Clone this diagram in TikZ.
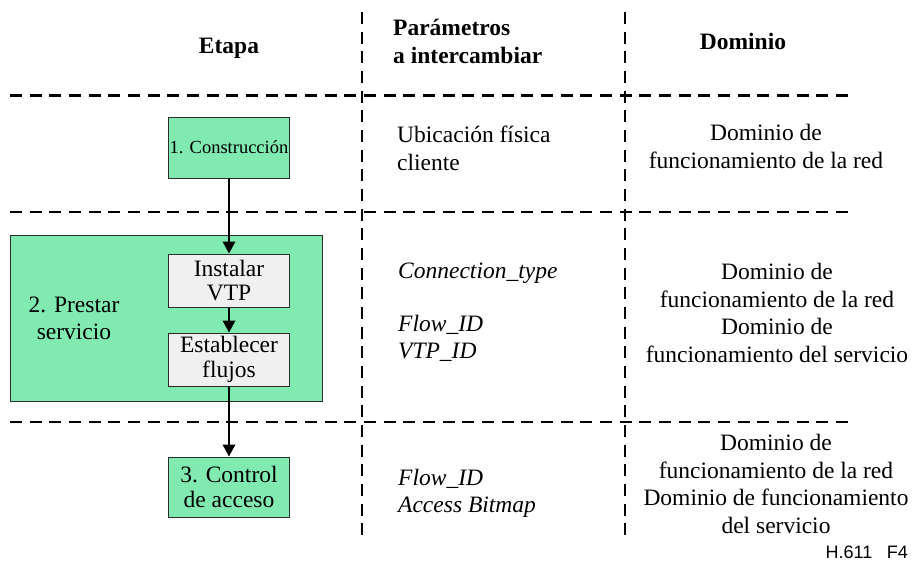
\documentclass[tikz,border=0pt]{standalone}
\usepackage{fontspec}
\setmainfont{Liberation Serif}
\newfontfamily\labelsans{Liberation Sans}
\usetikzlibrary{arrows.meta}
\definecolor{stagegreen}{RGB}{128,234,176}
\definecolor{stepgray}{RGB}{240,240,240}
\definecolor{boxedge}{RGB}{45,45,45}

\begin{document}
\begin{tikzpicture}[x=1pt,y=-1pt,
  grid/.style={line width=2.2pt, dash pattern=on 12pt off 7.67pt},
  txt/.style={inner sep=0pt, font=\fontsize{23.5}{27.5}\selectfont},
  head/.style={txt, align=left, font=\fontsize{23.5}{28}\selectfont\bfseries},
  param/.style={txt, align=left, font=\fontsize{23.5}{26.5}\selectfont\itshape},
  plainparam/.style={txt, align=left, font=\fontsize{23.5}{28}\selectfont},
  dom/.style={txt, align=center, font=\fontsize{23.5}{27.5}\selectfont},
  stagebox/.style={draw=boxedge, line width=1pt, fill=stagegreen, inner sep=0pt,
    align=center, minimum width=121pt, font=\fontsize{23.5}{24.5}\selectfont},
  stepbox/.style={stagebox, fill=stepgray},
  flow/.style={line width=2pt, -{Triangle[length=12pt,width=12.5pt]}},
]
\useasboundingbox (0,0) rectangle (913,562);

% table grid
\draw[grid] (362,12) -- (362,543);
\draw[grid] (625,12) -- (625,543);
\draw[grid] (10,95.5) -- (848,95.5);
\draw[grid] (10,212) -- (848,212);
\draw[grid] (10,422) -- (848,422);

% column headings (multi-line nodes: base = last line)
\node[head, anchor=base] (hStage) at (229,53) {Etapa};
\node[head, anchor=base west] (hParam) at (393,63) {Parámetros\\a intercambiar};
\node[head, anchor=base] (hDomain) at (743,49) {Dominio};

% stage 2 frame
\node[draw=boxedge, line width=1pt, fill=stagegreen, minimum width=312pt,
  minimum height=166pt, inner sep=0pt] (serv) at (166,318) {};
\node[dom, font=\fontsize{23.5}{27}\selectfont] (servlabel) at (74,318) {2. Prestar\\servicio};

% stage boxes
\node[stagebox, minimum height=61pt, font=\fontsize{18.5}{22}\selectfont]
  (build) at (229,147.5) {1. Construcción};
\node[stepbox, minimum height=53pt] (vtp) at (229,280.5) {Instalar\\VTP};
\node[stepbox, minimum height=53pt] (flows) at (229,359.5) {Establecer\\flujos};
\node[stagebox, minimum height=60pt] (access) at (229,487) {3. Control\\de acceso};

% stage flow
\draw[flow] (build.south) -- (vtp.north);
\draw[flow] (vtp.south) -- (flows.north);
\draw[flow] (flows.south) -- (access.north);

% parameters column
\node[plainparam, anchor=base west] (p1) at (397,170) {Ubicación física\\cliente};
\node[param, anchor=base west] (p2a) at (398,278) {Connection\_type};
\node[param, anchor=base west] (p2b) at (398,358) {Flow\_ID\\VTP\_ID};
\node[param, anchor=base west] (p3) at (398,512) {Flow\_ID\\Access Bitmap};

% domain column
\node[dom, anchor=base] (d1) at (766,168) {Dominio de\\funcionamiento de la red};
\node[dom, anchor=base] (d2) at (777,362) {Dominio de\\funcionamiento de la red\\Dominio de\\funcionamiento del servicio};
\node[dom, anchor=base] (d3) at (776,533) {Dominio de\\funcionamiento de la red\\Dominio de funcionamiento\\del servicio};

% figure tag
\node[inner sep=0pt, anchor=base east, font=\labelsans\fontsize{18}{20}\selectfont]
  (tag) at (908,558) {H.611\hspace{0.8em}F4};
\end{tikzpicture}
\end{document}
